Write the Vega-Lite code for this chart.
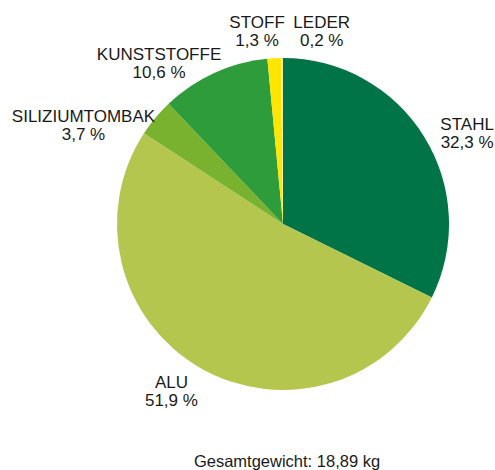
{
  "$schema": "https://vega.github.io/schema/vega-lite/v6.json",
  "autosize": {"type": "none"},
  "width": 424,
  "height": 448,
  "padding": {"left": 71, "right": 0, "top": 0, "bottom": 22},
  "background": "white",
  "view": {"stroke": null},
  "config": {"font": "Liberation Sans"},
  "title": {"text": "Gesamtgewicht: 18,89 kg", "orient": "bottom", "anchor": "middle", "fontSize": 16.5, "fontWeight": "normal", "color": "#1a1a1a", "offset": 6, "dx": 4},
  "data": {"values": [
    {"name": "STAHL", "value": 32.3, "label": "STAHL\n32,3 %", "idx": 1},
    {"name": "ALU", "value": 51.9, "label": "ALU\n51,9 %", "idx": 2},
    {"name": "SILIZIUMTOMBAK", "value": 3.7, "label": "SILIZIUMTOMBAK\n3,7 %", "idx": 3},
    {"name": "KUNSTSTOFFE", "value": 10.6, "label": "KUNSTSTOFFE\n10,6 %", "idx": 4},
    {"name": "STOFF", "value": 1.3, "label": "STOFF\n1,3 %", "idx": 5},
    {"name": "LEDER", "value": 0.2, "label": "LEDER\n0,2 %", "idx": 6}
  ]},
  "encoding": {
    "theta": {"field": "value", "type": "quantitative", "stack": true},
    "order": {"field": "idx", "type": "quantitative"}
  },
  "layer": [
    {
      "mark": {"type": "arc", "outerRadius": 166},
      "encoding": {
        "color": {"field": "name", "type": "nominal", "legend": null,
          "scale": {"domain": ["STAHL", "ALU", "SILIZIUMTOMBAK", "KUNSTSTOFFE", "STOFF", "LEDER"],
                    "range": ["#007446", "#b5c64f", "#78b22f", "#2e9c3b", "#ffe600", "#ede9a8"]}}
      }
    },
    {
      "mark": {"type": "text", "radius": 205, "lineBreak": "\n", "fontSize": 17, "lineHeight": 18, "color": "#1a1a1a", "dx": 10, "dy": 9},
      "encoding": {"text": {"condition": {"test": "datum.name === 'STAHL'", "field": "label"}, "value": ""}}
    },
    {
      "mark": {"type": "text", "radius": 205, "lineBreak": "\n", "fontSize": 17, "lineHeight": 18, "color": "#1a1a1a", "dx": -10, "dy": -19},
      "encoding": {"text": {"condition": {"test": "datum.name === 'ALU'", "field": "label"}, "value": ""}}
    },
    {
      "mark": {"type": "text", "radius": 205, "lineBreak": "\n", "fontSize": 17, "lineHeight": 18, "color": "#1a1a1a", "dx": -42, "dy": 24},
      "encoding": {"text": {"condition": {"test": "datum.name === 'SILIZIUMTOMBAK'", "field": "label"}, "value": ""}}
    },
    {
      "mark": {"type": "text", "radius": 205, "lineBreak": "\n", "fontSize": 17, "lineHeight": 18, "color": "#1a1a1a", "dx": -39, "dy": 18},
      "encoding": {"text": {"condition": {"test": "datum.name === 'KUNSTSTOFFE'", "field": "label"}, "value": ""}}
    },
    {
      "mark": {"type": "text", "radius": 205, "lineBreak": "\n", "fontSize": 17, "lineHeight": 18, "color": "#1a1a1a", "dx": -15, "dy": 4},
      "encoding": {"text": {"condition": {"test": "datum.name === 'STOFF'", "field": "label"}, "value": ""}}
    },
    {
      "mark": {"type": "text", "radius": 205, "lineBreak": "\n", "fontSize": 17, "lineHeight": 18, "color": "#1a1a1a", "dx": 40, "dy": 4},
      "encoding": {"text": {"condition": {"test": "datum.name === 'LEDER'", "field": "label"}, "value": ""}}
    }
  ]
}
